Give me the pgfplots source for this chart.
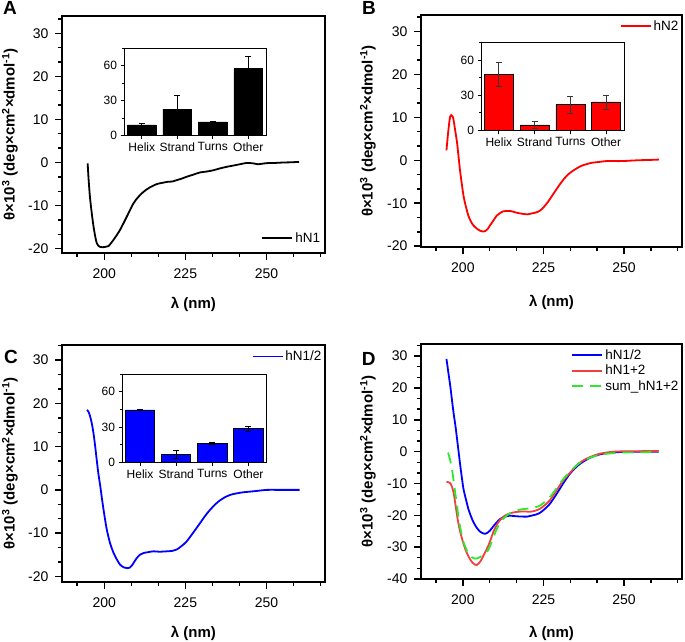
\documentclass[border=0pt]{standalone}
\usepackage{fontspec}
\setmainfont{Liberation Sans}
\usepackage{pgfplots}
\pgfplotsset{compat=1.18}

\definecolor{cdred}{RGB}{255,0,0}
\definecolor{cdblue}{RGB}{0,0,255}
\definecolor{dred}{RGB}{242,64,64}
\definecolor{dgreen}{RGB}{45,232,45}
\definecolor{errgray}{RGB}{55,55,55}

% frame and ticks of a main panel, drawn as filled strips
% #1 ymin, #2 major y ticks, #3 minor y ticks, #4 width+1.6, #5 height+1.6
\newcommand{\cdframe}[5]{%
  \fill[black] (rel axis cs:0,0) ++(-0.8pt,-0.8pt) rectangle ++(#4pt,1.6pt);
  \fill[black] (rel axis cs:0,1) ++(-0.8pt,-0.8pt) rectangle ++(#4pt,1.6pt);
  \fill[black] (rel axis cs:0,0) ++(-0.8pt,-0.8pt) rectangle ++(1.6pt,#5pt);
  \fill[black] (rel axis cs:1,0) ++(-0.8pt,-0.8pt) rectangle ++(1.6pt,#5pt);
  \pgfplotsinvokeforeach{200,225,250}{\fill[black] (axis cs:##1,#1) ++(-0.7pt,0pt) rectangle ++(1.4pt,-7pt);}
  \pgfplotsinvokeforeach{191.667,208.333,216.667,233.333,241.667,258.333,266.667}{\fill[black] (axis cs:##1,#1) ++(-0.7pt,0pt) rectangle ++(1.4pt,-4pt);}
  \pgfplotsinvokeforeach{#2}{\fill[black] (axis cs:187,##1) ++(0pt,-0.7pt) rectangle ++(-7pt,1.4pt);}
  \pgfplotsinvokeforeach{#3}{\fill[black] (axis cs:187,##1) ++(0pt,-0.7pt) rectangle ++(-4pt,1.4pt);}
}

\pgfplotsset{
  cdmain/.style={
    scale only axis,
    clip=false,
    xmin=187, xmax=268,
    xtick={200,225,250},
    xticklabels={200,225,250},
    minor xtick={191.667,208.333,216.667,233.333,241.667,258.333,266.667},
    axis line style={draw=black, line width=1.5pt},
    tick style={draw=black, line width=1.4pt},
    tick align=outside,
    major tick length=7pt, minor tick length=4pt,
    xtick pos=bottom, ytick pos=left,
    tick label style={font=\fontsize{14}{16}\selectfont},
    xticklabel style={yshift=-5pt},
    yticklabel style={xshift=-3pt},
    xlabel={λ (nm)},
    ylabel={θ×10\textsuperscript{3} (deg×cm\textsuperscript{2}×dmol\textsuperscript{-1})},
    label style={font=\fontsize{15}{17}\selectfont\bfseries},
    legend style={draw=none, fill=none, font=\fontsize{13.5}{16}\selectfont, inner sep=0pt, row sep=0pt},
    legend cell align=left,
    legend image code/.code={\draw[##1] (0pt,0pt) -- (30pt,0pt);},
  },
  cdinset/.style={
    scale only axis,
    ybar, bar width=0.81,
    xmin=0.5, xmax=4.5, ymin=0, ymax=75,
    xtick={1,2,3,4}, xticklabels={Helix,Strand,Turns,Other},
    ytick={0,30,60}, minor ytick={15,45,75},
    tick align=outside, major tick length=3.5pt, minor tick length=2.2pt,
    xtick pos=bottom, ytick pos=left,
    axis line style={line width=0.9pt},
    tick style={line width=0.9pt,black},
    /pgf/number format/assume math mode=true,
    tick label style={font=\fontsize{12}{14}\selectfont},
    axis background/.style={fill=white},
  },
  barerr/.style={
    draw=black, line width=0.7pt,
    error bars/.cd, y dir=both, y explicit,
    error bar style={line width=0.8pt,#1},
    error mark options={rotate=90, mark size=3pt, line width=0.8pt, #1},
  },
  curve/.style={line width=1.8pt, smooth},
}

\begin{document}
\begin{tikzpicture}
\useasboundingbox (0pt,0pt) rectangle (685pt,-641pt);

% ---------------- Panel A ----------------
\begin{axis}[cdmain,
  at={(62pt,-253pt)}, anchor=south west, width=263pt, height=237pt,
  ymin=-21, ymax=34, ytick={-20,-10,0,10,20,30}, yticklabels={-20,-10,0,10,20,30},
  minor ytick={-16.667,-13.333,-6.667,-3.333,3.333,6.667,13.333,16.667,23.333,26.667,33.333},
  xlabel style={at={(axis description cs:0.5,-0.219)}, anchor=center},
  ylabel style={at={(axis description cs:-0.198,0.5)}, anchor=center},
  legend style={at={(axis description cs:0.99,0.03)}, anchor=south east},
]
\addplot[black, curve] coordinates {
(194.9,-0.2) (195.2,-4) (195.7,-8.7) (196.7,-14.8) (197.7,-18.7) (198.8,-19.6)
(200.2,-19.6) (201.3,-19.4) (203,-17.8) (204.9,-15.6) (207,-12.5) (209,-9.5)
(210.5,-8) (212.1,-6.8) (214,-5.8) (216.2,-5) (218,-4.7) (219.3,-4.5) (221,-4.4)
(222.3,-4.1) (224,-3.7) (225.4,-3.3) (227.5,-2.8) (229.5,-2.3) (231.5,-2.1)
(233.6,-1.8) (235.5,-1.4) (237.7,-1) (239.8,-0.7) (241.8,-0.4) (243.9,-0.1)
(245.9,-0.2) (247.4,-0.4) (248.5,-0.3) (250,-0.15) (252.5,-0.1) (255,0)
(257.5,0.05) (260,0.15)};
\addlegendentry{hN1}
\cdframe{-21}{-20,-10,0,10,20,30}{-16.667,-13.333,-6.667,-3.333,3.333,6.667,13.333,16.667,23.333,26.667,33.333}{264.6}{238.6}
\node[font=\fontsize{19}{19}\selectfont\bfseries] at (axis description cs:-0.198,1.034) {A};
\end{axis}

\begin{axis}[cdinset, at={(124pt,-135.5pt)}, anchor=south west, width=142pt, height=87.5pt]
\addplot[fill=black, barerr=black] coordinates {
(1,9.1) +- (0,1.7) (2,22.7) +- (0,12) (3,11.6) +- (0,0.3) (4,57.2) +- (0,10.2)};
\end{axis}

% ---------------- Panel B ----------------
\begin{axis}[cdmain,
  at={(421pt,-247pt)}, anchor=south west, width=261pt, height=232pt,
  ymin=-20.2, ymax=33.8, ytick={-20,-10,0,10,20,30}, yticklabels={-20,-10,0,10,20,30},
  minor ytick={-16.667,-13.333,-6.667,-3.333,3.333,6.667,13.333,16.667,23.333,26.667,33.333},
  xlabel style={at={(axis description cs:0.5,-0.241)}, anchor=center},
  ylabel style={at={(axis description cs:-0.203,0.5)}, anchor=center},
  legend style={at={(axis description cs:0.995,0.985)}, anchor=north east},
]
\addplot[cdred, curve] coordinates {
(194.9,2.3) (195.5,7) (196.0,10.0) (196.4,10.5) (196.8,10.2) (197.1,9.4)
(197.6,7) (198.2,4) (198.7,0.5) (199.2,-2.9) (200.2,-8.3) (201.0,-11)
(201.7,-12.9) (202.5,-14.3) (203.3,-15.2) (204.3,-15.9) (205.3,-16.4)
(206.2,-16.6) (206.9,-16.5) (207.6,-16.1) (208.4,-15.2) (209.5,-14) (210.5,-12.9)
(211.5,-12.3) (212.5,-11.9) (214.6,-11.8) (216.6,-12.2) (218.7,-12.5) (220.0,-12.6)
(221.3,-12.4) (222.5,-12.2) (223.8,-11.8) (225.0,-11) (225.9,-10.2) (227.5,-8.5)
(229,-6.8) (230.5,-5.2) (232,-3.8) (233.5,-2.8) (235.1,-2.0) (236.5,-1.4)
(238,-1.0) (240,-0.6) (242.3,-0.4) (244.4,-0.2) (247,-0.2) (249.5,-0.2)
(252,-0.1) (254.6,0) (257.5,0.05) (260.8,0.15)};
\addlegendentry{hN2}
\cdframe{-20.2}{-20,-10,0,10,20,30}{-16.667,-13.333,-6.667,-3.333,3.333,6.667,13.333,16.667,23.333,26.667,33.333}{262.6}{233.6}
\node[font=\fontsize{19}{19}\selectfont\bfseries] at (axis description cs:-0.199,1.032) {B};
\end{axis}

\begin{axis}[cdinset, at={(481pt,-130.5pt)}, anchor=south west, width=143pt, height=88pt]
\addplot[fill=cdred, barerr=errgray] coordinates {
(1,47.5) +- (0,10.3) (2,4.8) +- (0,3) (3,22) +- (0,7) (4,24.3) +- (0,6)};
\end{axis}

% ---------------- Panel C ----------------
\begin{axis}[cdmain,
  at={(62pt,-582pt)}, anchor=south west, width=263pt, height=237pt,
  ymin=-21.3, ymax=33.5, ytick={-20,-10,0,10,20,30}, yticklabels={-20,-10,0,10,20,30},
  minor ytick={-16.667,-13.333,-6.667,-3.333,3.333,6.667,13.333,16.667,23.333,26.667,33.333},
  xlabel style={at={(axis description cs:0.5,-0.215)}, anchor=center},
  ylabel style={at={(axis description cs:-0.198,0.5)}, anchor=center},
  legend style={at={(axis description cs:0.995,0.985)}, anchor=north east},
]
\addplot[cdblue, curve] coordinates {
(194.7,18.5) (195.2,18) (195.7,16.9) (196.2,15.3) (196.7,13.1) (197.2,10.2)
(197.7,6.9) (198.2,3.8) (198.8,0.8) (199.3,-2) (199.8,-4.6) (200.3,-7)
(200.8,-9.2) (201.8,-12.3) (202.9,-14.6) (203.9,-16.1) (204.9,-17.3) (206,-17.9)
(207,-18.1) (207.8,-18) (208.5,-17.5) (209.2,-16.7) (210,-15.8) (211,-15)
(212.1,-14.6) (213.5,-14.4) (215.2,-14.2) (217,-14.3) (219.3,-14.2) (221,-14.1)
(222.3,-13.8) (223.8,-13) (225.4,-11.9) (227.5,-9.8) (229.5,-7.7) (231.5,-5.6)
(233.6,-3.8) (235.5,-2.5) (237.7,-1.5) (239.5,-1) (240.8,-0.8) (242.8,-0.55)
(244.9,-0.4) (247.5,-0.2) (250,0) (255,0) (260.2,0)};
\addlegendentry{hN1/2}
\cdframe{-21.3}{-20,-10,0,10,20,30}{-16.667,-13.333,-6.667,-3.333,3.333,6.667,13.333,16.667,23.333,26.667,33.333}{264.6}{238.6}
\node[font=\fontsize{19}{19}\selectfont\bfseries] at (axis description cs:-0.194,0.949) {C};
\end{axis}

\begin{axis}[cdinset, at={(122pt,-462.5pt)}, anchor=south west, width=144.5pt, height=88.5pt]
\addplot[fill=cdblue, barerr=black] coordinates {
(1,44.6) +- (0,0.3) (2,6.6) +- (0,3.3) (3,16.2) +- (0,0.5) (4,28.6) +- (0,2.1)};
\end{axis}

% ---------------- Panel D ----------------
\begin{axis}[cdmain,
  at={(421pt,-579pt)}, anchor=south west, width=261pt, height=235pt,
  ymin=-40, ymax=33.8, ytick={-40,-30,-20,-10,0,10,20,30}, yticklabels={-40,-30,-20,-10,0,10,20,30},
  minor ytick={-36.667,-33.333,-26.667,-23.333,-16.667,-13.333,-6.667,-3.333,3.333,6.667,13.333,16.667,23.333,26.667,33.333},
  xlabel style={at={(axis description cs:0.5,-0.23)}, anchor=center},
  ylabel style={at={(axis description cs:-0.203,0.5)}, anchor=center},
  legend style={at={(axis description cs:0.995,0.985)}, anchor=north east},
]
\addplot[cdblue, curve] coordinates {
(194.9,29.1) (195.5,24.8) (196.1,20.5) (196.6,16.3) (197.1,12.2) (197.7,8)
(198.2,3.9) (198.7,-0.3) (199.2,-4.5) (199.7,-8.3) (200.2,-11.8) (201,-15.2)
(201.7,-18) (202.5,-20.3) (203.3,-22.2) (204.3,-23.9) (205.3,-25.1) (206.1,-25.6)
(206.9,-25.8) (207.6,-25.5) (208.4,-24.8) (209.4,-23.5) (210.5,-22.2) (211.5,-21.2)
(212.5,-20.6) (213.5,-20.3) (214.6,-20.1) (216.6,-20.3) (218.7,-20.4) (220,-20.4)
(221.3,-20.1) (222.5,-19.8) (223.8,-19.3) (225.3,-18.1) (226.9,-16.5) (228.5,-14.2)
(230,-11.8) (231.5,-9.4) (233.1,-7.1) (234.6,-5.4) (236.1,-4) (238.2,-2.6)
(240.2,-1.6) (242.3,-0.9) (244.4,-0.5) (247,-0.25) (249.5,-0.1) (255,0) (260.8,0)};
\addlegendentry{hN1/2}
\addplot[dred, curve] coordinates {
(194.9,-9.5) (195.5,-9.6) (196.1,-9.9) (196.6,-11) (197.1,-12.8) (197.6,-16)
(198.2,-20.1) (198.7,-23) (199.2,-25.3) (200,-28.3) (200.7,-30.5) (201.5,-32.4)
(202.3,-33.9) (203,-34.9) (203.8,-35.5) (204.3,-35.6) (204.8,-35.2) (205.6,-34.2)
(206.4,-32.6) (207.2,-31) (207.9,-29.5) (208.7,-27.4) (209.4,-25.3) (210.2,-23.6)
(211,-22.2) (212,-21) (213,-20.1) (214.3,-19.5) (215.6,-19.1) (216.9,-18.9)
(218.2,-18.8) (219.5,-18.8) (220.7,-18.9) (222.3,-18.6) (223.8,-18) (225.3,-16.9)
(226.9,-15.4) (228.5,-13.1) (230,-10.7) (231.5,-8.6) (233.1,-6.8) (234.6,-5.1)
(236.1,-3.6) (238.2,-2.3) (240.2,-1.4) (242.3,-0.7) (244.4,-0.3) (247,0)
(249.5,0.1) (255,0.15) (260.8,0.2)};
\addlegendentry{hN1+2}
\addplot[dgreen, curve, dash pattern=on 11pt off 7pt] coordinates {
(195.4,-0.3) (196,-2.5) (196.6,-5.5) (197.1,-9) (197.6,-12.8) (198.2,-17)
(198.7,-21.1) (199.4,-25) (200.2,-28.4) (201,-30.5) (201.7,-32.1) (202.7,-33.1)
(203.8,-33.6) (204.5,-33.5) (205.3,-33.1) (206.4,-32.4) (207.4,-31.6) (208.2,-30.2)
(208.9,-28.4) (209.7,-26.3) (210.5,-24.3) (211.5,-22.5) (212.5,-21.1) (213.8,-19.9)
(215.1,-19.1) (216.4,-18.6) (217.7,-18.2) (219.2,-18) (220.7,-17.8) (222.3,-17.5)
(223.8,-17) (225.3,-15.9) (226.9,-14.4) (228.5,-12.3) (230,-10.2) (231.5,-8.2)
(233.1,-6.4) (234.6,-4.9) (236.1,-3.6) (238.2,-2.5) (240.2,-1.6) (242.3,-1.1)
(244.4,-0.7) (247,-0.45) (249.5,-0.3) (255,-0.2) (260.8,-0.1)};
\addlegendentry{sum\_hN1+2}
\cdframe{-40}{-40,-30,-20,-10,0,10,20,30}{-36.667,-33.333,-26.667,-23.333,-16.667,-13.333,-6.667,-3.333,3.333,6.667,13.333,16.667,23.333,26.667,33.333}{262.6}{236.6}
\node[font=\fontsize{19}{19}\selectfont\bfseries] at (axis description cs:-0.2,0.936) {D};
\end{axis}
\end{tikzpicture}
\end{document}
